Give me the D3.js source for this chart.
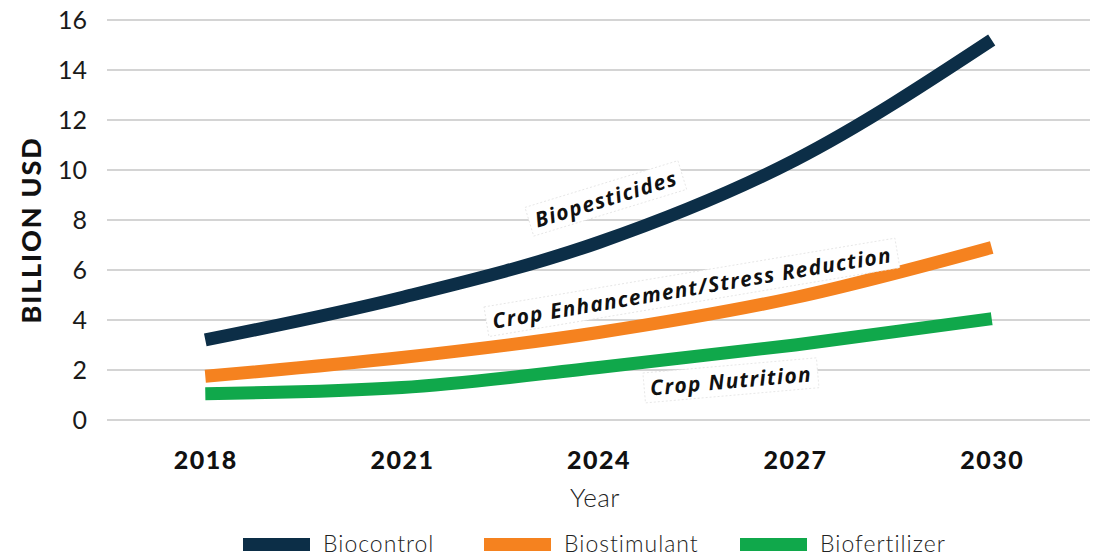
<!DOCTYPE html>
<html>
<head>
<meta charset="utf-8">
<script src="https://cdn.jsdelivr.net/npm/d3@7"></script>
<style>
  body { margin: 0; background: #fff; }
  svg { display: block; font-family: "Lato", "Open Sans", sans-serif; }
</style>
</head>
<body>
<svg width="1093" height="556"></svg>
<script>
let years = ["2018", "2021", "2024", "2027", "2030"];
let biocontrol = [3.2, 4.9, 7.1, 10.4, 15.2];
let biostimulant = [1.75, 2.5, 3.5, 4.9, 6.9];
let biofertilizer = [1.05, 1.3, 2.1, 3.0, 4.05];
let yTicks = [0, 2, 4, 6, 8, 10, 12, 14, 16];
let seriesNames = ["Biocontrol", "Biostimulant", "Biofertilizer"];
let seriesColors = ["#0c2e47", "#f5821f", "#10a84b"];
let curveLabels = ["Biopesticides", "Crop Enhancement/Stress Reduction", "Crop Nutrition"];

let w = 1093, h = 556;
let svg = d3.select('svg');

let xScale = d3.scalePoint()
  .domain(years)
  .range([107, 1090])
  .padding(0.5);

let yScale = d3.scaleLinear()
  .domain([0, 16])
  .range([420, 20]);

// gridlines
svg.append('g')
  .selectAll('line')
  .data(yTicks)
  .enter()
  .append('line')
  .attr('x1', 107)
  .attr('x2', 1090)
  .attr('y1', d => yScale(d))
  .attr('y2', d => yScale(d))
  .attr('stroke', '#d4d4d4')
  .attr('stroke-width', 2);

// y axis
let yAxis = d3.axisLeft(yScale).tickValues(yTicks).tickSize(0).tickPadding(0);
let yG = svg.append('g')
  .attr('transform', 'translate(87,0)')
  .call(yAxis);
yG.select('.domain').remove();
yG.selectAll('text')
  .attr('font-size', 25)
  .attr('font-family', 'Lato, sans-serif')
  .attr('font-weight', 400)
  .attr('fill', '#1a1a1a')
  .attr('dy', '0.35em');

// x axis
let xAxis = d3.axisBottom(xScale).tickSize(0).tickPadding(0);
let xG = svg.append('g')
  .attr('transform', 'translate(0,451)')
  .call(xAxis);
xG.select('.domain').remove();
xG.selectAll('text')
  .attr('font-size', 25)
  .attr('font-weight', 900)
  .attr('font-family', 'Lato, sans-serif')
  .attr('fill', '#111')
  .attr('letter-spacing', 1.5);

// axis titles
svg.append('text')
  .text('BILLION USD')
  .attr('transform', 'translate(41,230) rotate(-90)')
  .attr('text-anchor', 'middle')
  .attr('font-size', 27)
  .attr('font-weight', 900)
  .attr('letter-spacing', 1.8)
  .attr('fill', '#111');

svg.append('text')
  .text('Year')
  .attr('x', 595)
  .attr('y', 507)
  .attr('text-anchor', 'middle')
  .attr('font-size', 26)
  .attr('font-weight', 300)
  .attr('letter-spacing', 0.5)
  .attr('fill', '#222');

// lines
let allSeries = [biocontrol, biostimulant, biofertilizer];
let line = d3.line()
  .x((d, i) => xScale(years[i]))
  .y(d => yScale(d))
  .curve(d3.curveMonotoneX);

svg.append('g')
  .selectAll('path')
  .data(allSeries)
  .enter()
  .append('path')
  .attr('d', d => line(d))
  .attr('fill', 'none')
  .attr('stroke', (d, i) => seriesColors[i])
  .attr('stroke-width', 13);

// curve labels
let labelPos = [
  { x: 606, y: 199, r: -17 },
  { x: 692, y: 288, r: -9.5 },
  { x: 731, y: 381, r: -5 }
];
let labels = svg.append('g')
  .selectAll('g')
  .data(curveLabels)
  .enter()
  .append('g')
  .attr('transform', (d, i) => `translate(${labelPos[i].x},${labelPos[i].y}) rotate(${labelPos[i].r})`);

labels.append('text')
  .text(d => d)
  .attr('text-anchor', 'middle')
  .attr('dy', '0.35em')
  .attr('font-family', '"Open Sans", sans-serif')
  .attr('font-weight', 700)
  .attr('font-style', 'italic')
  .attr('font-size', 21)
  .attr('letter-spacing', 1.3)
  .attr('fill', '#111');

labels.each(function () {
  let g = d3.select(this);
  let bb = g.select('text').node().getBBox();
  g.insert('rect', 'text')
    .attr('x', bb.x - 6)
    .attr('y', bb.y - 1)
    .attr('width', bb.width + 12)
    .attr('height', bb.height + 2)
    .attr('fill', '#fff')
    .attr('stroke', '#e2e2e2')
    .attr('stroke-width', 0.8)
    .attr('stroke-dasharray', '2,2');
});

// legend
let legendX = [243, 484, 740];
let legend = svg.append('g')
  .selectAll('g')
  .data(seriesNames)
  .enter()
  .append('g')
  .attr('transform', (d, i) => `translate(${legendX[i]},538)`);

legend.append('rect')
  .attr('width', 67)
  .attr('height', 13)
  .attr('fill', (d, i) => seriesColors[i]);

legend.append('text')
  .text(d => d)
  .attr('x', 80)
  .attr('y', 6)
  .attr('dy', '0.36em')
  .attr('font-size', 23)
  .attr('font-weight', 300)
  .attr('letter-spacing', 1)
  .attr('fill', '#222');
</script>
</body>
</html>
